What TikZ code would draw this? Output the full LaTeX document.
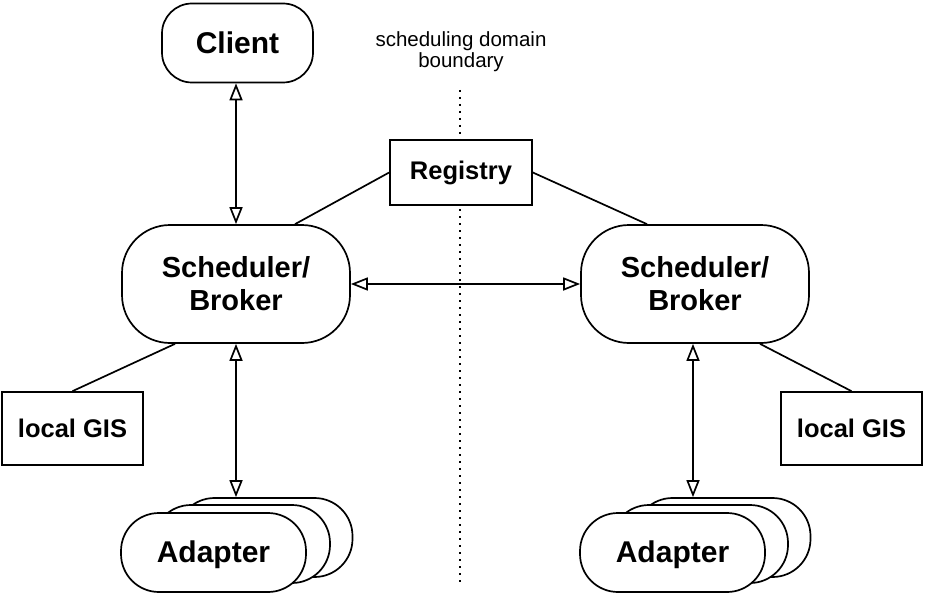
\documentclass[tikz,border=0pt]{standalone}
\usepackage{fontspec}
\setmainfont{Liberation Sans}
\usetikzlibrary{arrows.meta,calc}
\begin{document}
\begin{tikzpicture}[x=1pt,y=-1pt,
  ln/.style={line width=1.7pt},
  rbox/.style={draw,ln,fill=white,rounded corners=#1,inner sep=0pt},
  sbox/.style={draw,ln,fill=white,inner sep=0pt},
  darr/.style={ln,{Triangle[open,length=17pt,width=13pt]}-{Triangle[open,length=17pt,width=13pt]}},
  lbl/.style 2 args={font=\bfseries\fontsize{#1}{#2}\selectfont,align=center}
]
\useasboundingbox (0,0) rectangle (925,596);
% boundary
\node[font=\fontsize{20.5}{21}\selectfont,align=center] (bnd) at (461,52) {scheduling domain\\boundary};
\coordinate (dtop) at (460,90);
\coordinate (dbot) at (460,584);
\draw[line width=1.6pt,dash pattern=on 2pt off 5pt] (dtop) -- (dbot);
% client
\node[rbox=30pt,minimum width=151pt,minimum height=79pt,lbl={30}{34}] (client) at (237.5,43) {Client};
% registry
\node[sbox,minimum width=142pt,minimum height=65pt,lbl={25.5}{29}] (reg) at (461,172.5) {Registry};
% schedulers
\node[rbox=48pt,minimum width=228pt,minimum height=118pt,lbl={29}{33}] (schedL) at (236,284) {Scheduler/\\Broker};
\node[rbox=48pt,minimum width=228pt,minimum height=118pt,lbl={29}{33}] (schedR) at (695,284) {Scheduler/\\Broker};
% local GIS
\node[sbox,minimum width=141pt,minimum height=73pt,lbl={25.5}{29}] (gisL) at (72.5,428.5) {local GIS};
\node[sbox,minimum width=141pt,minimum height=73pt,lbl={25.5}{29}] (gisR) at (851.5,428.5) {local GIS};
% adapters left
\node[rbox=38pt,minimum width=176pt,minimum height=79pt] (adLc) at (264.5,537.5) {};
\node[rbox=38pt,minimum width=177pt,minimum height=78pt] (adLb) at (241.5,544) {};
\node[rbox=38pt,minimum width=185pt,minimum height=79pt,lbl={30}{34},text depth=1pt] (adLa) at (213.5,552.5) {Adapter};
% adapters right
\node[rbox=38pt,minimum width=176pt,minimum height=79pt] (adRc) at (722.5,537.5) {};
\node[rbox=38pt,minimum width=177pt,minimum height=78pt] (adRb) at (699.5,544) {};
\node[rbox=38pt,minimum width=185pt,minimum height=79pt,lbl={30}{34},text depth=1pt] (adRa) at (672.5,552.5) {Adapter};
% arrows
\draw[darr] (client.south -| schedL.north) -- (schedL.north);
\draw[darr] (schedL.south) -- (schedL.south |- adLc.north);
\draw[darr] (schedR.south -| 693,0) -- (adRc.north -| 693,0);
\draw[darr] (schedL.east) -- (schedR.west);
% plain lines
\draw[ln] (reg.west) -- ($(schedL.north)+(59,0)$);
\draw[ln] (reg.east) -- ($(schedR.north)+(-48,0)$);
\draw[ln] ($(schedL.south)+(-61,0)$) -- (gisL.north);
\draw[ln] ($(schedR.south)+(65,0)$) -- (gisR.north);
\end{tikzpicture}
\end{document}
